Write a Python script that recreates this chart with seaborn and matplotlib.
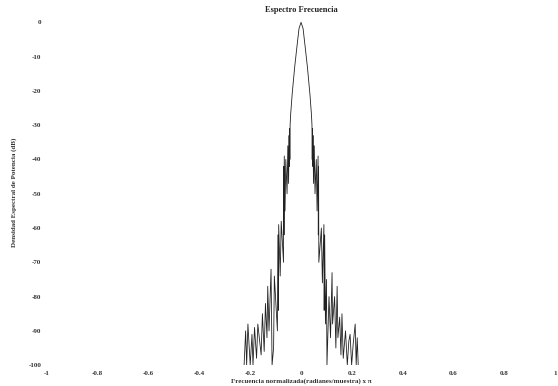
import matplotlib
matplotlib.use("Agg")
import matplotlib.pyplot as plt
import seaborn as sns
import pandas as pd

sns.set_style("white")
plt.rcParams['font.family'] = ['Liberation Serif', 'DejaVu Serif']

# Frequency response vertices (normalized freq, dB)
freq_left = [-0.224, -0.218, -0.214, -0.209, -0.200, -0.193, -0.189, -0.183, -0.175, -0.170,
             -0.157, -0.152, -0.145, -0.140, -0.134, -0.131, -0.126, -0.118, -0.114,
             -0.108, -0.105, -0.093, -0.091, -0.089, -0.088, -0.082, -0.078,
             -0.069, -0.068, -0.067, -0.066, -0.063, -0.060, -0.055, -0.052, -0.049,
             -0.047, -0.046, -0.045, -0.044, -0.043, -0.041, -0.035, -0.025, -0.016, -0.008]
db_left = [-100, -90, -100, -88, -100, -91, -100, -89, -98, -88,
           -97, -85, -96, -82, -92, -77, -90, -72, -100,
           -95, -74, -90, -62, -84, -59, -74, -58,
           -70, -42, -62, -39, -55, -40, -50, -36, -47,
           -33, -42, -31, -40, -30, -27, -21, -13, -7, -1.8]
freq_center = [0.0]
db_center = [0.0]
freq_right = [0.008, 0.016, 0.025, 0.035, 0.041, 0.043, 0.044, 0.045, 0.046, 0.047,
              0.049, 0.052, 0.055, 0.060, 0.063, 0.067, 0.068, 0.069, 0.070, 0.080,
              0.084, 0.090, 0.091, 0.093, 0.096, 0.100, 0.102, 0.110, 0.116, 0.122,
              0.124, 0.132, 0.137, 0.142, 0.145, 0.152, 0.157, 0.161, 0.166, 0.175,
              0.182, 0.188, 0.193, 0.199, 0.205, 0.213, 0.217, 0.221, 0.225]
db_right = [-1.8, -7, -13, -21, -27, -30, -40, -31, -42, -33,
            -47, -36, -50, -40, -55, -39, -62, -42, -70, -60,
            -76, -59, -84, -62, -88, -75, -100, -80, -92, -73,
            -88, -80, -95, -77, -92, -86, -97, -85, -98, -90,
            -100, -93, -91, -100, -94, -88, -100, -92, -100]

title = "Espectro Frecuencia"
xlabel = "Frecuencia normalizada(radianes/muestra) x π"
ylabel = "Densidad Espectral de Potencia (dB)"
xticks = [-1, -0.8, -0.6, -0.4, -0.2, 0, 0.2, 0.4, 0.6, 0.8, 1]
yticks = [0, -10, -20, -30, -40, -50, -60, -70, -80, -90, -100]

df = pd.DataFrame({
    "f": freq_left + freq_center + freq_right,
    "db": db_left + db_center + db_right,
})

fig = plt.figure(figsize=(5.58, 3.86), dpi=100)
ax = fig.add_axes([0.084, 0.054, 0.911, 0.897])
sns.lineplot(data=df, x="f", y="db", ax=ax, color="#222222", linewidth=0.6,
             sort=False, estimator=None)
ax.set_xlim(-1, 1)
ax.set_ylim(-100, 1)
ax.set_xticks(xticks)
ax.set_xticklabels([f"{t:g}" for t in xticks])
ax.set_yticks(yticks)
ax.set_yticklabels([f"{t:g}" for t in yticks])
for s in ax.spines.values():
    s.set_visible(False)
ax.tick_params(axis="both", labelsize=5, length=2, width=0.5, colors="#777777",
               labelcolor="#333333", direction="out", pad=2)
for lbl in ax.get_xticklabels() + ax.get_yticklabels():
    lbl.set_fontweight("bold")
ax.set_title(title, fontsize=6, fontweight="bold", pad=5, color="#222222")
ax.set_xlabel(xlabel, fontsize=5, fontweight="bold", labelpad=2, color="#333333")
ax.set_ylabel(ylabel, fontsize=5, fontweight="bold", labelpad=8, color="#333333")
fig.savefig("out.png", dpi=100)
